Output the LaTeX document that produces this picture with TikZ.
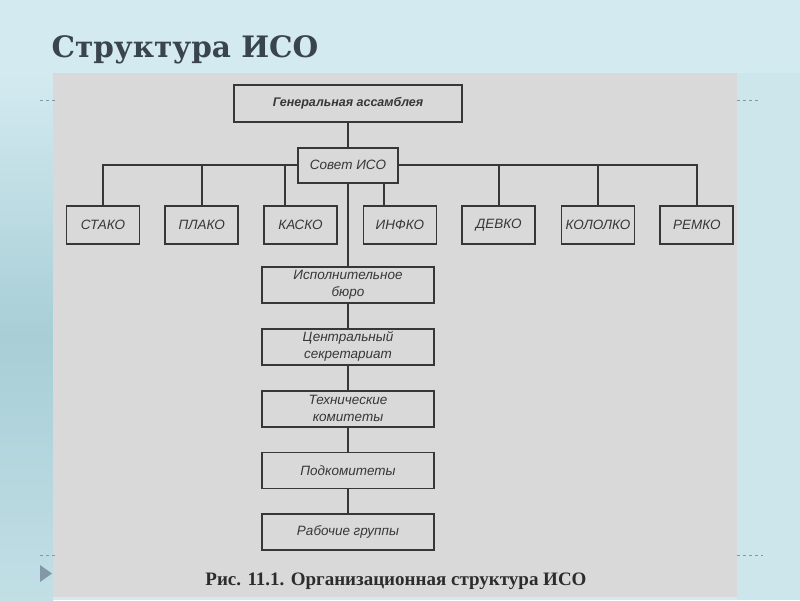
\documentclass[tikz,border=0pt]{standalone}
\usepackage{fontspec}
\setmainfont{Liberation Serif}
\setsansfont{Liberation Sans}
\newfontfamily\slabfont{DejaVu Serif}
\usepackage{tikz}
\usetikzlibrary{positioning, calc}
\definecolor{slidebg}{RGB}{211,234,240}
\definecolor{slideedge}{RGB}{168,206,214}
\definecolor{scangray}{RGB}{217,217,217}
\definecolor{inkdark}{RGB}{55,55,55}
\definecolor{titleink}{RGB}{58,68,78}
\definecolor{markgray}{RGB}{130,152,166}

\begin{document}
\begin{tikzpicture}[
  x=1pt, y=-1pt,
  node distance=24pt,
  orgbox/.style={rectangle, draw=inkdark, line width=1.8pt, fill=scangray,
               minimum height=36pt, align=center, inner sep=2pt, text=inkdark,
               font=\sffamily\itshape\fontsize{13.5}{17}\selectfont},
  unitbox/.style={orgbox, minimum width=73pt, minimum height=38pt},
  chainbox/.style={orgbox, minimum width=172pt},
  link/.style={line width=1.8pt, draw=inkdark},
  tick/.style={dashed, thin, draw=markgray},
]
  % slide background and scanned page
  \useasboundingbox (0,0) rectangle (800,600);
  \fill[slidebg] (0,0) rectangle (800,600);
  \shade[top color=slidebg, bottom color=slidebg!60!slideedge, middle color=slideedge]
    (0,73) rectangle (53,600);
  \fill[slidebg!85!slideedge] (737,73) rectangle (800,600);
  \fill[scangray] (53,73) rectangle (737,597);

  \draw[tick] (40,100) -- (55,100);
  \draw[tick] (737,100) -- (760,100);
  \draw[tick] (40,555) -- (55,555);
  \draw[tick] (737,555) -- (763,555);
  \fill[markgray] (40,565) -- (52,573.5) -- (40,582) -- cycle;

  \node[anchor=base west, text=titleink, font=\slabfont\bfseries\fontsize{29.5}{33}\selectfont]
    (title) at (48,57) {Структура ИСО};

  % top of the structure
  \node[orgbox, minimum width=228pt, minimum height=37pt,
        font=\sffamily\bfseries\itshape\fontsize{12.5}{16}\selectfont]
    (gen) at (348,103.5) {Генеральная ассамблея};
  \node[orgbox, minimum width=100pt, minimum height=35pt, below=24pt of gen] (sovet) {Совет ИСО};

  % committees of the council
  \node[unitbox] (stako) at (103,225) {СТАКО};
  \node[unitbox, right=24pt of stako] (plako) {ПЛАКО};
  \node[unitbox, right=24pt of plako] (kasko) {КАСКО};
  \node[unitbox, right=24.5pt of kasko] (infko) {ИНФКО};
  \node[unitbox, right=24pt of infko] (devko) {ДЕВКО};
  \node[unitbox, right=24.5pt of devko] (kololko) {КОЛОЛКО};
  \node[unitbox, right=24pt of kololko] (remko) {РЕМКО};

  % working chain
  \node[chainbox] (ispol) at (348,285) {Исполнительное\\бюро};
  \node[chainbox, below=24pt of ispol] (centr) {Центральный\\секретариат};
  \node[chainbox, below=24pt of centr] (tech) {Технические\\комитеты};
  \node[chainbox, below=24pt of tech] (podkom) {Подкомитеты};
  \node[chainbox, below=24pt of podkom] (rabgr) {Рабочие группы};

  \draw[link] (gen) -- (sovet);
  \draw[link] (sovet.west) -| (stako);
  \draw[link] (sovet.west) -| (plako);
  \draw[link] (sovet.west) -| ([xshift=-16pt]kasko.north);
  \draw[link] (sovet.east) -| (devko);
  \draw[link] (sovet.east) -| (kololko);
  \draw[link] (sovet.east) -| (remko);
  \draw[link] ([xshift=-16pt]infko.north) -- ([xshift=-16pt]infko.north |- sovet.south);

  \draw[link] (sovet) -- (ispol);
  \draw[link] (ispol) -- (centr);
  \draw[link] (centr) -- (tech);
  \draw[link] (tech) -- (podkom);
  \draw[link] (podkom) -- (rabgr);

  \node[anchor=base, text=inkdark!80!black, font=\bfseries\fontsize{19}{22}\selectfont]
    (caption) at (396,585) {Рис. 11.1. Организационная структура ИСО};
\end{tikzpicture}
\end{document}
